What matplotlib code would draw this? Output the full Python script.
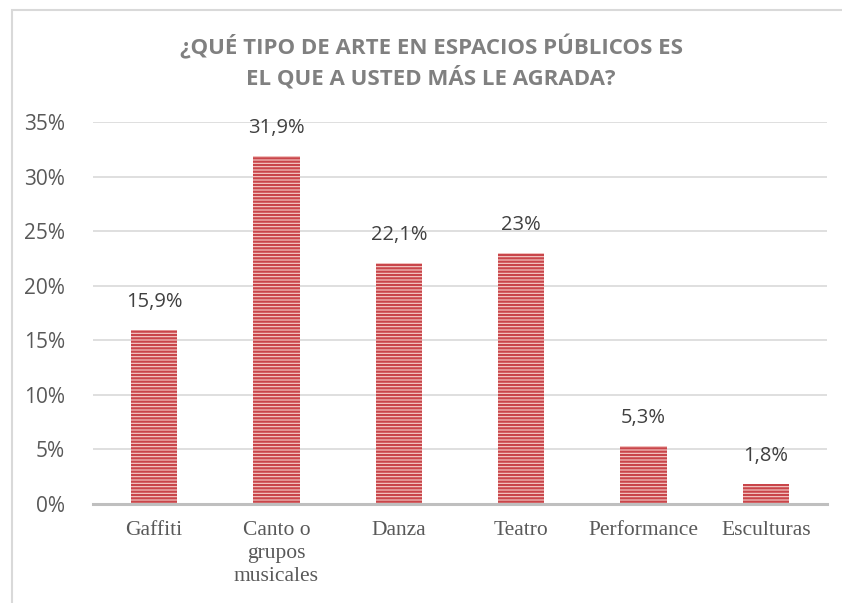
import matplotlib
matplotlib.use('Agg')
from matplotlib import pyplot as plt
from matplotlib.patches import Rectangle

# datos del grafico
categorias = ['Gaffiti', 'Canto o\ngrupos\nmusicales', 'Danza', 'Teatro', 'Performance', 'Esculturas']
valores = [15.9, 31.9, 22.1, 23.0, 5.3, 1.8]
etiquetas = ['15,9%', '31,9%', '22,1%', '23%', '5,3%', '1,8%']
ticks_y = [0, 5, 10, 15, 20, 25, 30, 35]
titulo = '¿QUÉ TIPO DE ARTE EN ESPACIOS PÚBLICOS ES\nEL QUE A USTED MÁS LE AGRADA?'

plt.rcParams['hatch.linewidth'] = 1.6

fig = plt.figure(figsize=(8.42, 6.03), dpi=100)
ax = fig.add_axes([93 / 842, 1 - 504 / 603, 734 / 842, 382 / 603])

# marco del grafico (recortado a la derecha y abajo)
fig.patches.append(Rectangle((12 / 842, -0.1), 1.2, 1 - 10 / 603 + 0.1,
                             transform=fig.transFigure, fill=False,
                             edgecolor='#d9d9d9', linewidth=1.5))

x = range(len(categorias))
ax.bar(x, valores, width=0.38, color='#f6d0cc', edgecolor='#c9454a',
       linewidth=0, hatch='-----', zorder=2)

for i in range(len(valores)):
    ax.annotate(etiquetas[i], (x[i], valores[i]), xytext=(0, 13),
                textcoords='offset points', ha='center', va='bottom',
                fontsize=14.5, color='#404040', family='Open Sans')

ax.set_xlim(-0.5, len(categorias) - 0.5)
ax.set_ylim(0, 35)
ax.set_yticks(ticks_y)
ax.set_yticklabels(['%d%%' % t for t in ticks_y], fontsize=15, color='#595959', family='Open Sans')
ax.set_xticks(list(x))
ax.set_xticklabels(categorias, fontsize=15.5, color='#595959', family='Liberation Serif',
                   linespacing=1.3, va='top')
ax.tick_params(axis='y', length=0, pad=20)
ax.tick_params(axis='x', length=0, pad=12)

ax.grid(axis='y', color='#d9d9d9', linewidth=1.2, zorder=0)
ax.set_axisbelow(True)
for s in ['top', 'right', 'left']:
    ax.spines[s].set_visible(False)
ax.spines['bottom'].set_color('#bfbfbf')
ax.spines['bottom'].set_linewidth(2.2)

fig.text(431 / 842, 1 - 34 / 603, titulo, ha='center', va='top', fontsize=16,
         fontweight='bold', color='#808080', family='Open Sans', linespacing=1.4)

plt.savefig('out.png', dpi=100)
